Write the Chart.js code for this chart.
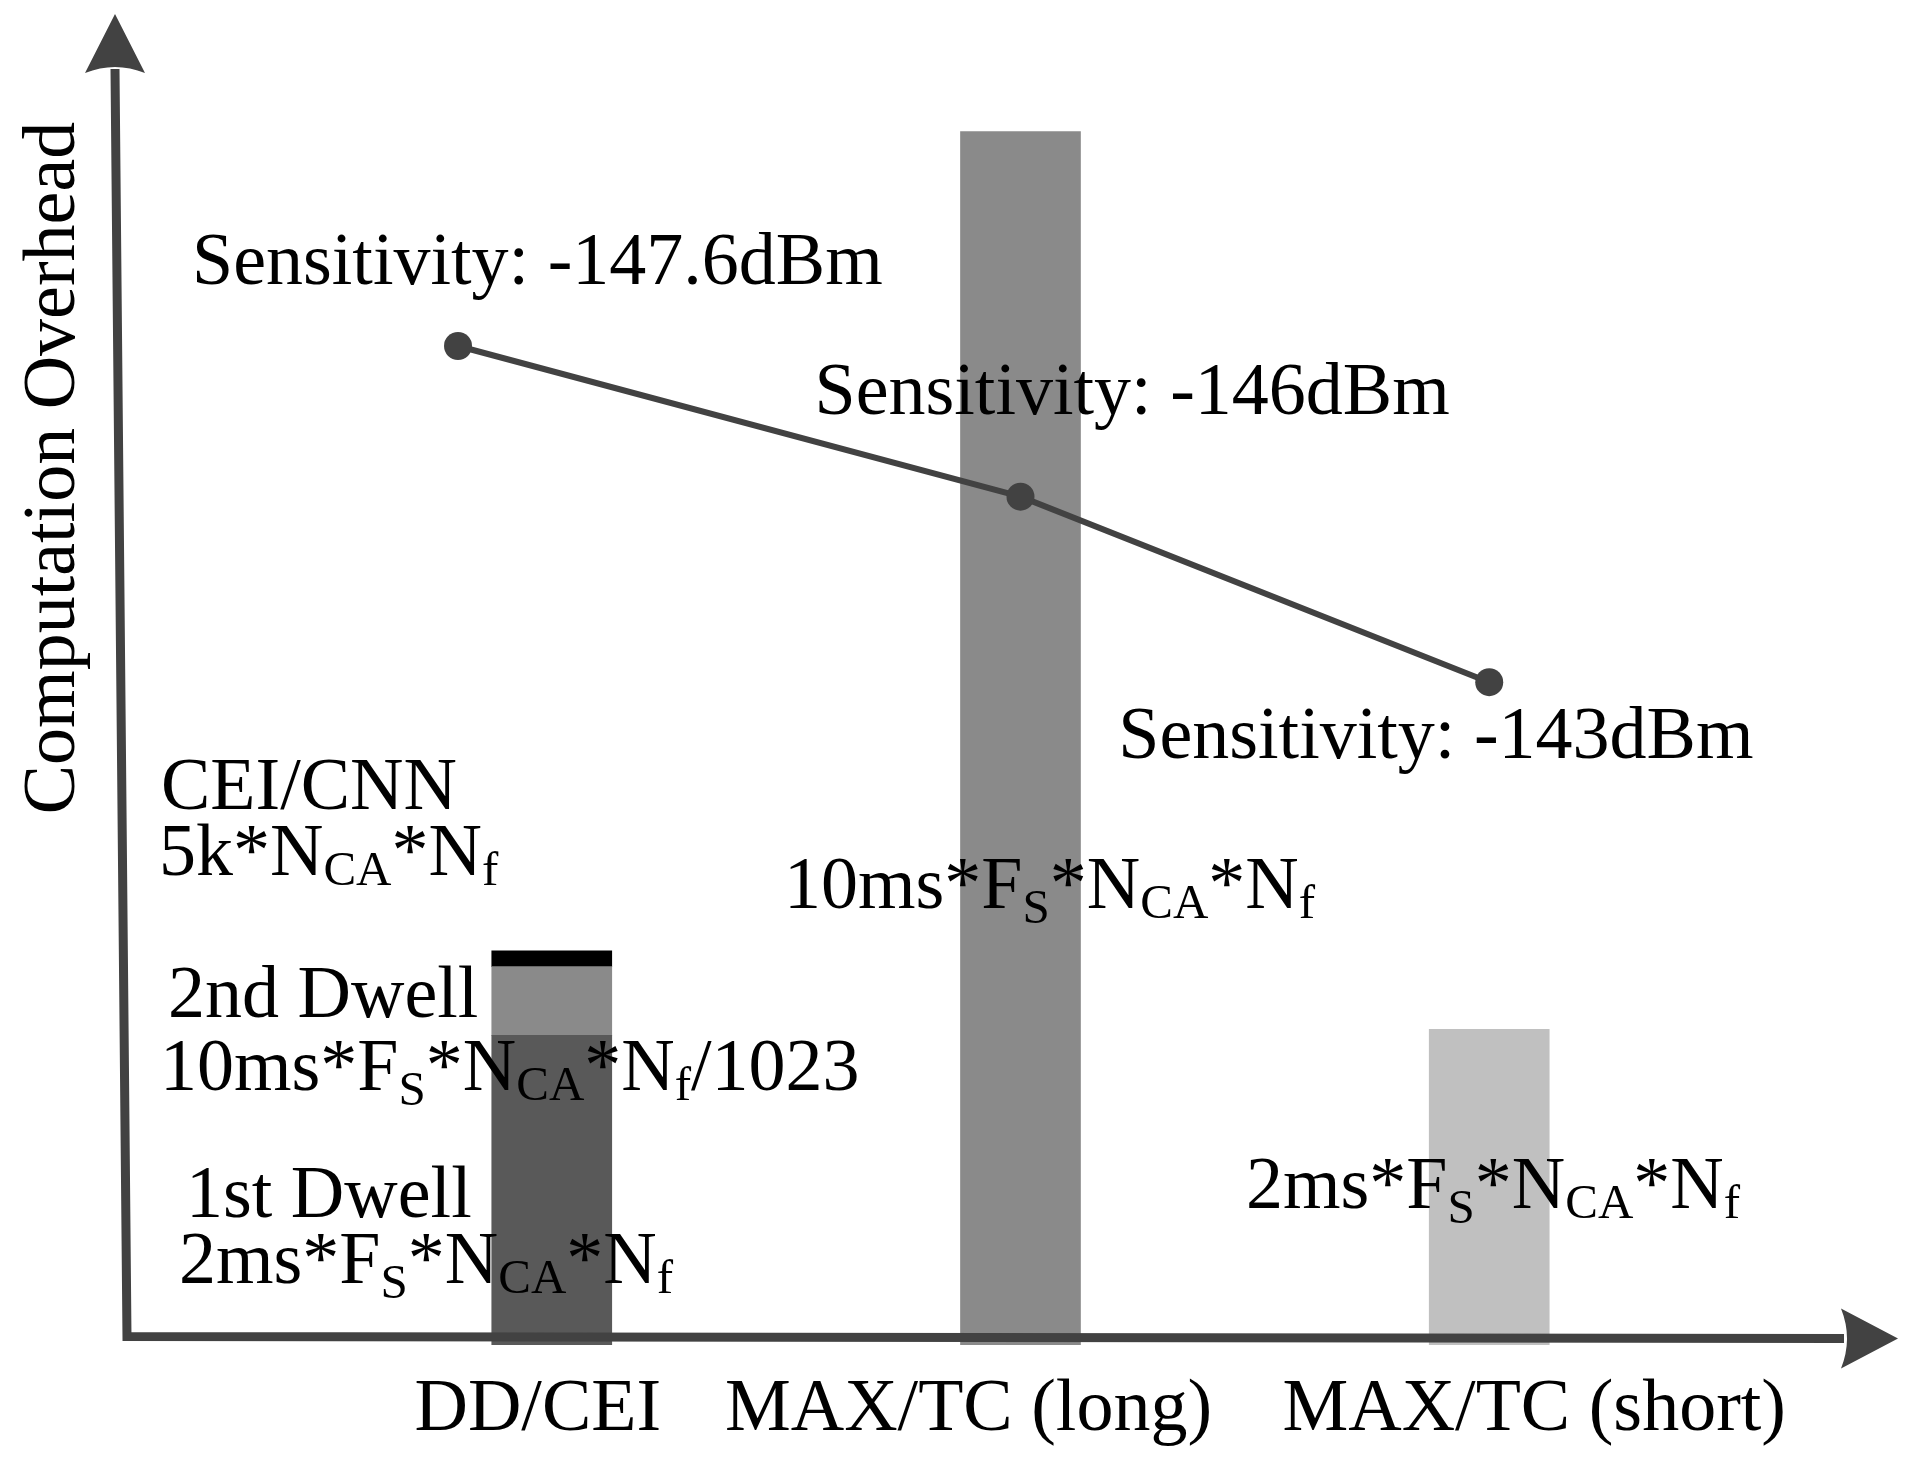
<!DOCTYPE html>
<html>
<head>
<meta charset="utf-8">
<script src="https://cdn.jsdelivr.net/npm/chart.js@4.4.0/dist/chart.umd.min.js"></script>
<style>
  html, body { margin: 0; padding: 0; background: #fff; }
  canvas { display: block; }
</style>
</head>
<body>
<canvas id="overheadCanvas" width="1912" height="1471"></canvas>
<script>
// values (overhead in arbitrary units, long MAX/TC = 100)
const categories = ["DD/CEI", "MAX/TC (long)", "MAX/TC (short)"];
const firstDwell = [25.0, 100, 25.5];
const secondDwell = [5.7, 0, 0];
const cnnStage = [1.3, 0, 0];
const sensitivityX = [-0.2, 1, 2];
const sensitivityY = [82.2, 69.7, 54.3];
const sensitivityText = ["Sensitivity: -147.6dBm", "Sensitivity: -146dBm", "Sensitivity: -143dBm"];

const Y_MIN = -0.7;
const AXIS_COLOR = "#424242";
const MAIN_FONT = "74px 'Liberation Serif'";
const SUB_FONT = "49px 'Liberation Serif'";

const secondTop = firstDwell.map((v, i) => v + secondDwell[i]);
const cnnTop = secondTop.map((v, i) => v + cnnStage[i]);

function floating(low, high) {
    const pts = [];
    categories.forEach((c, i) => {
        if (high[i] > low[i]) pts.push({ x: i, y: [low[i], high[i]] });
    });
    return pts;
}

// text written with _{..} for subscripts
function drawRich(ctx, markup, x, y) {
    const parts = markup.split(/(_\{[^}]*\})/).filter(Boolean);
    let cx = x;
    parts.forEach(p => {
        if (p.startsWith("_{")) {
            const t = p.slice(2, -1);
            ctx.font = SUB_FONT;
            ctx.fillText(t, cx, y + (t === "S" ? 15 : 10));
            cx += ctx.measureText(t).width;
        } else {
            ctx.font = MAIN_FONT;
            ctx.fillText(p, cx, y);
            cx += ctx.measureText(p).width;
        }
    });
}

const notes = [
    ["CEI/CNN", 161, 809],
    ["5k*N_{CA}*N_{f}", 159, 875],
    ["2nd Dwell", 168, 1017],
    ["10ms*F_{S}*N_{CA}*N_{f}/1023", 160, 1090],
    ["1st Dwell", 186, 1217],
    ["2ms*F_{S}*N_{CA}*N_{f}", 179, 1283],
    ["10ms*F_{S}*N_{CA}*N_{f}", 784, 908],
    ["2ms*F_{S}*N_{CA}*N_{f}", 1246, 1208]
];
const sensOffsets = [[-266, -62], [-206, -83], [-371, 76]];
const labelShift = [-14, -52, 45];

const decorations = {
    id: "decorations",
    afterDatasetsDraw(chart) {
        const ctx = chart.ctx;
        const area = chart.chartArea;
        const xs = chart.scales.x;
        const ys = chart.scales.y;
        const y0 = ys.getPixelForValue(0);
        ctx.save();

        // axes
        const topX = area.left - 12;
        const headBase = area.top + 59;
        ctx.strokeStyle = AXIS_COLOR;
        ctx.fillStyle = AXIS_COLOR;
        ctx.lineWidth = 9;
        ctx.lineJoin = "miter";
        ctx.beginPath();
        ctx.moveTo(topX, headBase - 4);
        ctx.lineTo(area.left, y0);
        ctx.lineTo(area.right - 54, y0 + 2);
        ctx.stroke();

        ctx.beginPath();
        ctx.moveTo(topX, area.top);
        ctx.lineTo(topX + 30, headBase);
        ctx.quadraticCurveTo(topX, headBase - 12, topX - 30, headBase);
        ctx.closePath();
        ctx.fill();

        const tipY = y0 + 2;
        ctx.beginPath();
        ctx.moveTo(area.right, tipY);
        ctx.lineTo(area.right - 57, tipY + 30);
        ctx.quadraticCurveTo(area.right - 45, tipY, area.right - 57, tipY - 30);
        ctx.closePath();
        ctx.fill();

        // texts
        ctx.fillStyle = "#000";
        ctx.textBaseline = "alphabetic";
        ctx.textAlign = "left";
        notes.forEach(n => drawRich(ctx, n[0], n[1], n[2]));

        ctx.font = MAIN_FONT;
        sensitivityText.forEach((t, i) => {
            const px = xs.getPixelForValue(sensitivityX[i]);
            const py = ys.getPixelForValue(sensitivityY[i]);
            ctx.fillText(t, px + sensOffsets[i][0], py + sensOffsets[i][1]);
        });

        ctx.textAlign = "center";
        categories.forEach((c, i) => {
            ctx.fillText(c, xs.getPixelForValue(i) + labelShift[i], 1430);
        });

        ctx.translate(74, 468);
        ctx.rotate(-Math.PI / 2);
        ctx.fillText("Computation Overhead", 0, 0);
        ctx.restore();
    }
};

const overheadChart = new Chart(document.getElementById("overheadCanvas"), {
    type: "bar",
    data: {
        datasets: [
            {
                type: "line",
                data: sensitivityX.map((x, i) => ({ x: x, y: sensitivityY[i] })),
                borderColor: AXIS_COLOR,
                borderWidth: 6,
                pointRadius: 14,
                pointBackgroundColor: AXIS_COLOR,
                pointBorderWidth: 0,
                tension: 0,
                order: 0
            },
            {
                data: floating(categories.map(() => Y_MIN), firstDwell),
                backgroundColor: ["#595959", "#8a8a8a", "#c0c0c0"],
                barThickness: 120,
                grouped: false,
                order: 1
            },
            {
                data: floating(firstDwell, secondTop),
                backgroundColor: "#8a8a8a",
                barThickness: 120,
                grouped: false,
                order: 1
            },
            {
                data: floating(secondTop, cnnTop),
                backgroundColor: "#000000",
                barThickness: 120,
                grouped: false,
                order: 1
            }
        ]
    },
    options: {
        responsive: false,
        animation: false,
        devicePixelRatio: 1,
        layout: { padding: { left: 127, right: 13, top: 14, bottom: 126 } },
        plugins: {
            legend: { display: false },
            tooltip: { enabled: false }
        },
        scales: {
            x: { type: "linear", display: false, offset: false, min: -0.9062, max: 2.8721 },
            y: { display: false, min: Y_MIN, max: 109.75 }
        }
    },
    plugins: [decorations]
});
</script>
</body>
</html>
